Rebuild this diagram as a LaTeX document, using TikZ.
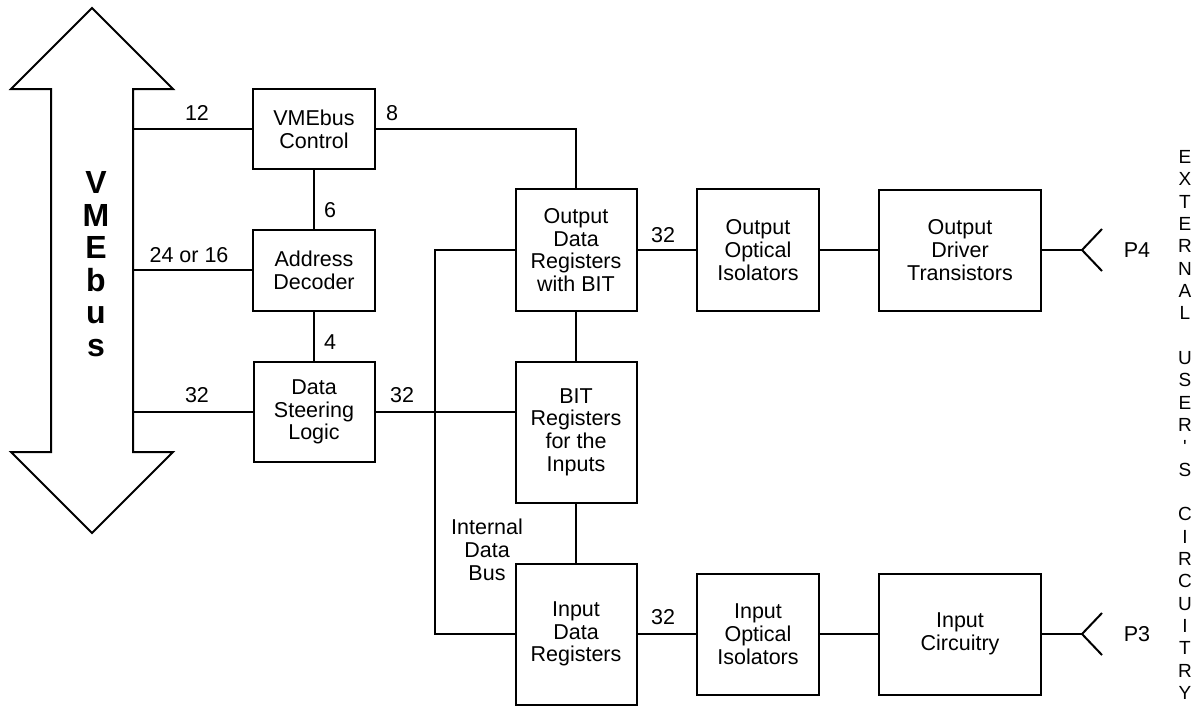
\documentclass[tikz,border=0pt]{standalone}
\usepackage{fontspec}
\setmainfont{Liberation Sans}

\begin{document}
\begin{tikzpicture}[x=1pt, y=-1pt, line width=2pt,
  blk/.style={draw, align=center, inner sep=0pt, font=\fontsize{21.5}{22.7}\selectfont},
  lbl/.style={align=center, inner sep=0pt, font=\fontsize{21.5}{22.7}\selectfont}]

\useasboundingbox (0,0) rectangle (1199,713);

% Double arrow for the bus
\draw (92,8) -- (173,89) -- (133,89) -- (133,452) -- (173,452) -- (92,533)
  -- (11,452) -- (51,452) -- (51,89) -- (11,89) -- cycle;
\node[lbl, font=\fontsize{32}{32.5}\selectfont\bfseries] (vme) at (96,264) {V\\M\\E\\b\\u\\s};

% Taps on the bus
\coordinate (t12) at (133,129);
\coordinate (t24) at (133,270);
\coordinate (t32) at (133,412);

% Blocks
\node[blk, minimum width=122, minimum height=80]  (ctrl)   at (314,129) {VMEbus\\Control};
\node[blk, minimum width=122, minimum height=81]  (addr)   at (314,270) {Address\\Decoder};
\node[blk, minimum width=121, minimum height=100] (steer)  at (314,412) {Data\\Steering\\Logic};
\node[blk, minimum width=121, minimum height=122] (outreg) at (576,250) {Output\\Data\\Registers\\with BIT};
\node[blk, minimum width=121, minimum height=141] (bitreg) at (576,432) {BIT\\Registers\\for the\\Inputs};
\node[blk, minimum width=121, minimum height=141] (inreg)  at (576,634) {Input\\Data\\Registers};
\node[blk, minimum width=122, minimum height=122] (outiso) at (758,250) {Output\\Optical\\Isolators};
\node[blk, minimum width=122, minimum height=121] (iniso)  at (758,634) {Input\\Optical\\Isolators};
\node[blk, minimum width=162, minimum height=121] (driver) at (960,250) {Output\\Driver\\Transistors};
\node[blk, minimum width=162, minimum height=121] (incirc) at (960,634) {Input\\Circuitry};

% Internal data bus corners and connector ends
\coordinate (ibtop) at (435,250);
\coordinate (ibbot) at (435,634);
\coordinate (p4) at (1082,250);
\coordinate (p3) at (1082,634);

% Connections
\draw (t12) -- (ctrl.west);
\draw (t24) -- (addr.west);
\draw (t32) -- (steer.west);
\draw (ctrl.south) -- (addr.north);
\draw (addr.south) -- (steer.north);
\draw (ctrl.east) -| (outreg.north);
\draw (steer.east) -- (steer.east -| bitreg.west);
\draw (outreg.west) -- (ibtop) -- (ibbot) -- (inreg.west);
\draw (outreg.south) -- (bitreg.north);
\draw (bitreg.south) -- (inreg.north);
\draw (outreg.east) -- (outiso.west);
\draw (outiso.east) -- (driver.west);
\draw (inreg.east) -- (iniso.west);
\draw (iniso.east) -- (incirc.west);
\draw (driver.east) -- (p4);
\draw (incirc.east) -- (p3);

% Connector forks
\draw (1102,229) -- (p4) -- (1102,271);
\draw (1102,613) -- (p3) -- (1102,655);

% Labels
\node[lbl] (n12)   at (197,113) {12};
\node[lbl] (n8)    at (392,113) {8};
\node[lbl] (n6)    at (330,210) {6};
\node[lbl] (n24)   at (189,255) {24 or 16};
\node[lbl] (n4)    at (330,342) {4};
\node[lbl] (n32a)  at (197,395) {32};
\node[lbl] (n32b)  at (402,395) {32};
\node[lbl] (n32c)  at (663,235) {32};
\node[lbl] (n32d)  at (663,617) {32};
\node[lbl] (ibus)  at (487,550) {Internal\\Data\\Bus};
\node[lbl] (np4)   at (1137,250) {P4};
\node[lbl] (np3)   at (1137,634) {P3};
\node[lbl, font=\fontsize{19}{22.33}\selectfont] (ext) at (1185,425)
  {E\\X\\T\\E\\R\\N\\A\\L\\~\\U\\S\\E\\R\\\textquotesingle\\S\\~\\C\\I\\R\\C\\U\\I\\T\\R\\Y};

\end{tikzpicture}
\end{document}
